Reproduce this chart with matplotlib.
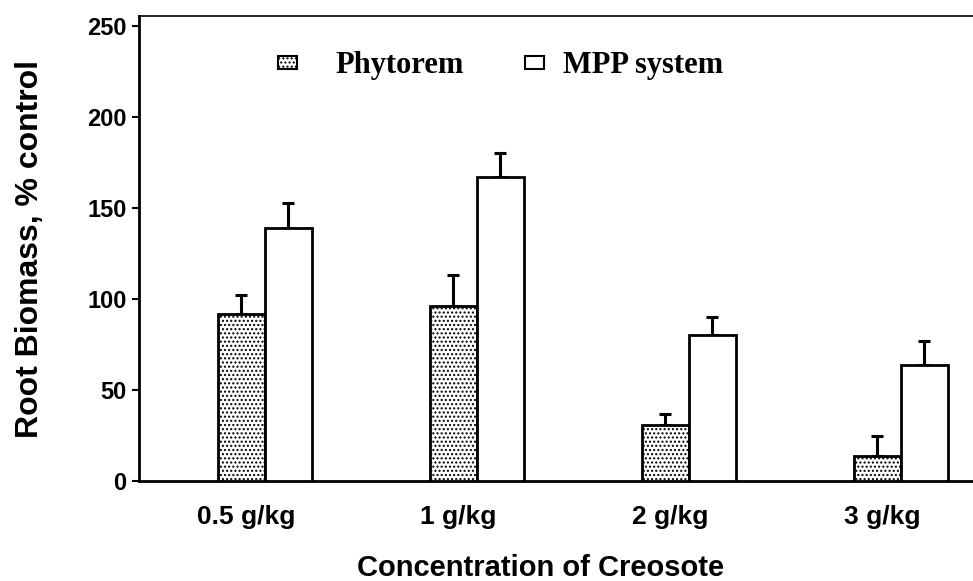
import numpy as np
import matplotlib.pyplot as plt
from matplotlib.patches import Rectangle

# data
concs = ["0.5 g/kg", "1 g/kg", "2 g/kg", "3 g/kg"]
phytorem = [92, 96, 31, 14]
phytorem_err = [10, 17, 6, 11]
mpp = [139, 167, 80, 64]
mpp_err = [14, 13, 10, 13]

x = np.arange(len(concs))
w = 0.222

fig = plt.figure(figsize=(9.73, 5.81), dpi=100)
ax = fig.add_axes([0.1429, 0.172, 0.8571, 0.8005])

bold_sans = dict(family="Liberation Sans", weight="bold")
bold_serif = dict(family="Liberation Serif", weight="bold", size=22)

plt.rcParams['hatch.color'] = '#555555'
ax.bar(x - w/2, phytorem, w, color="white", edgecolor="black", linewidth=2,
       hatch="....", zorder=3)
ax.bar(x + w/2, mpp, w, color="white", edgecolor="black", linewidth=2,
       zorder=3)
ax.errorbar(x - w/2, phytorem, yerr=[[0]*4, phytorem_err], fmt="none",
            ecolor="black", elinewidth=2.2, capsize=4.5, capthick=2.2, zorder=2)
ax.errorbar(x + w/2, mpp, yerr=[[0]*4, mpp_err], fmt="none",
            ecolor="black", elinewidth=2.2, capsize=4.5, capthick=2.2, zorder=2)

ax.set_xlim(-0.594, 3.34)
ax.set_ylim(0, 255.5)
ax.set_yticks([0, 50, 100, 150, 200, 250])
ax.set_yticklabels(["0", "50", "100", "150", "200", "250"], fontsize=17, **bold_sans)
ax.set_xticks(x - 0.09)
ax.set_xticklabels(concs, fontsize=19, **bold_sans)
ax.tick_params(axis="x", length=0, pad=17)
ax.tick_params(axis="y", length=5, width=1.5, pad=4)

ax.spines["right"].set_visible(False)
ax.spines["left"].set_linewidth(2)
ax.spines["bottom"].set_linewidth(2)
ax.spines["top"].set_linewidth(1.2)

ax.set_ylabel("Root Biomass, % control", fontsize=23, labelpad=30, **bold_sans)
ax.set_xlabel("Concentration of Creosote", fontsize=21, **bold_sans)
ax.xaxis.set_label_coords(0.481, -0.157)

# legend drawn by hand (the gaps differ between the two entries)
ax.add_patch(Rectangle((0.1667, 0.886), 0.0228, 0.027, transform=ax.transAxes,
                       facecolor="white", edgecolor="black", hatch="....",
                       linewidth=1.5, clip_on=False))
ax.text(0.235, 0.877, "Phytorem", transform=ax.transAxes, va="baseline", **bold_serif)
ax.add_patch(Rectangle((0.4628, 0.886), 0.0228, 0.027, transform=ax.transAxes,
                       facecolor="white", edgecolor="black",
                       linewidth=1.5, clip_on=False))
ax.text(0.508, 0.877, "MPP system", transform=ax.transAxes, va="baseline", **bold_serif)

fig.savefig("out.png", dpi=100)
